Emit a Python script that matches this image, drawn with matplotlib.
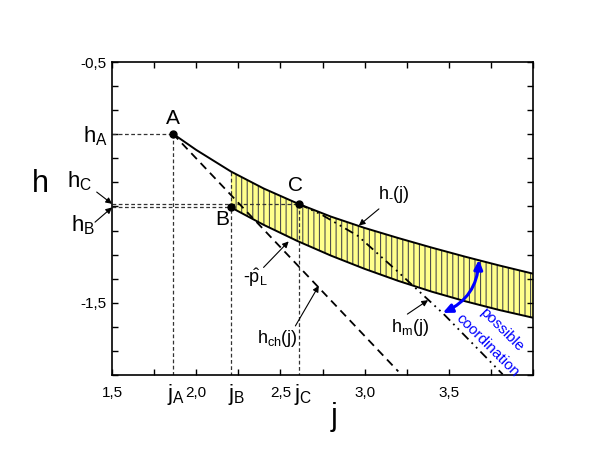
import numpy as np
import matplotlib
matplotlib.use('Agg')
import matplotlib.pyplot as plt
from matplotlib.ticker import MultipleLocator, FixedLocator

#
plt.rcParams['font.family'] = ['Liberation Sans', 'DejaVu Sans']
plt.rcParams['hatch.linewidth'] = 0.8

# upper boundary h_(j)
j_up = [1.86, 2.00, 2.207, 2.40, 2.61, 2.80, 3.00, 3.20, 3.40, 3.60, 3.80, 4.00]
h_up = [-0.797, -0.865, -0.955, -1.025, -1.090, -1.142, -1.189, -1.231, -1.271, -1.309, -1.345, -1.379]

# lower boundary (starting at B)
j_lo = [2.207, 2.40, 2.60, 2.80, 3.00, 3.20, 3.40, 3.60, 3.80, 4.00]
h_lo = [-1.104, -1.176, -1.243, -1.304, -1.359, -1.409, -1.454, -1.494, -1.530, -1.562]

# chord h_ch(j) from A
j_ch = [1.86, 3.20]
h_ch = [-0.797, -1.785]

# h_m(j) from C
j_m = [2.61, 2.74, 2.96, 3.19, 3.47, 3.82]
h_m = [-1.090, -1.132, -1.222, -1.366, -1.547, -1.797]

# points A, B, C
pt_names = ['A', 'B', 'C']
pt_j = [1.86, 2.207, 2.61]
pt_h = [-0.797, -1.104, -1.090]

# ticks
xtick_pos = [1.5, 2.0, 2.5, 3.0, 3.5, 4.0]
xtick_lab = ['1,5', '2,0', '2,5', '3,0', '3,5', '']
ytick_pos = [-1.5, -0.5]
ytick_lab = ['-1,5', '-0,5']


#
def arrow(ax, tip, tail):
	ax.annotate('', xy=tip, xytext=tail, annotation_clip=False,
		arrowprops=dict(arrowstyle='-|>', color='k', lw=0.8, mutation_scale=9,
						shrinkA=0, shrinkB=0))


#
def make_plot():

	fig = plt.figure(figsize=(5.93, 4.63), dpi=100)
	ax = fig.add_axes([0.1889, 0.19, 0.7099, 0.676])

	ax.set_xlim(1.5, 4.0)
	ax.set_ylim(-1.8, -0.5)

	# Yellow hatched band between the two curves
	band_j = j_up[2:] + j_lo[::-1]
	band_h = h_up[2:] + h_lo[::-1]
	ax.fill(band_j, band_h, facecolor='#ffff8c', edgecolor='#4d4d4d', hatch='|||', lw=0, zorder=1)

	# Curves
	ax.plot(j_up, h_up, color='k', lw=1.4, zorder=3)
	ax.plot(j_lo, h_lo, color='k', lw=1.4, zorder=3)
	ax.plot(j_ch, h_ch, color='k', lw=1.3, linestyle=(0, (4.5, 3)), zorder=3)
	ax.plot(j_m, h_m, color='k', lw=1.3, linestyle=(0, (5, 2.5, 1, 2.5, 1, 2.5)), zorder=3)

	# Helper dashed lines
	hl = dict(color='#333333', lw=0.9, linestyle=(0, (3, 2)), zorder=2)
	ja, jb, jc = pt_j
	ha, hb, hc = pt_h
	ax.plot([1.5, ja], [ha, ha], **hl)
	ax.plot([ja, ja], [ha, -1.8], **hl)
	ax.plot([1.5, jc], [hc, hc], **hl)
	ax.plot([1.5, jb], [hb, hb], **hl)
	ax.plot([jb, jb], [h_up[2], -1.8], **hl)
	ax.plot([jc, jc], [hc, -1.8], **hl)

	# Points
	ax.plot(pt_j, pt_h, 'o', color='k', ms=5, zorder=4)

	# Point names
	ax.text(1.860, -0.735, 'A', fontsize=15, ha='center', va='center')
	ax.text(2.152, -1.156, 'B', fontsize=15, ha='center', va='center')
	ax.text(2.592, -1.012, 'C', fontsize=15, ha='center', va='center')

	# Curve labels and arrows
	ax.text(3.173, -1.05, '$\\mathregular{h_{\u2010}(j)}$', fontsize=13, ha='center', va='center')
	arrow(ax, (2.966, -1.179), (3.085, -1.110))

	ax.text(2.351, -1.396, '$\\mathregular{\u2010\\hat{p}_L}$', fontsize=13, ha='center', va='center')
	arrow(ax, (2.549, -1.245), (2.40, -1.353))

	ax.text(2.482, -1.65, r'$\mathregular{h_{ch}(j)}$', fontsize=13, ha='center', va='center')
	arrow(ax, (2.728, -1.429), (2.589, -1.596))

	ax.text(3.268, -1.604, r'$\mathregular{h_{m}(j)}$', fontsize=13, ha='center', va='center')
	arrow(ax, (3.377, -1.489), (3.254, -1.547))

	# Blue double arrow - possible coordination
	ax.annotate('', xy=(3.464, -1.542), xytext=(3.679, -1.321),
		arrowprops=dict(arrowstyle='<|-|>,head_length=0.55,head_width=0.25', color='#0000ff', lw=2.2,
						shrinkA=0, shrinkB=0, connectionstyle='arc3,rad=-0.3'))
	ax.text(3.814, -1.61, 'possible', fontsize=11, color='#0000ff', rotation=-45,
		ha='center', va='center', rotation_mode='anchor')
	ax.text(3.73, -1.679, 'coordination', fontsize=11, color='#0000ff', rotation=-45,
		ha='center', va='center', rotation_mode='anchor')

	# Left side labels h_A, h_C, h_B
	ax.text(1.476, -0.808, r'$\mathregular{h_A}$', fontsize=16, ha='right', va='center', clip_on=False)
	ax.text(1.31, -0.994, r'$\mathregular{h_C}$', fontsize=16, ha='center', va='center', clip_on=False)
	ax.text(1.327, -1.177, r'$\mathregular{h_B}$', fontsize=16, ha='center', va='center', clip_on=False)
	arrow(ax, (1.5, -1.089), (1.409, -1.040))
	arrow(ax, (1.5, -1.104), (1.399, -1.165))

	# Bottom labels j_A, j_B, j_C
	ax.text(1.881, -1.879, r'$\mathregular{j_A}$', fontsize=16, ha='center', va='center', clip_on=False)
	ax.text(2.238, -1.879, r'$\mathregular{j_B}$', fontsize=16, ha='center', va='center', clip_on=False)
	ax.text(2.637, -1.879, r'$\mathregular{j_C}$', fontsize=16, ha='center', va='center', clip_on=False)

	# Axis names
	ax.text(1.074, -1.006, 'h', fontsize=22, ha='center', va='center', clip_on=False)
	ax.text(2.821, -1.975, 'j', fontsize=22, ha='center', va='center', clip_on=False)

	# Ticks
	ax.xaxis.set_major_locator(FixedLocator(xtick_pos))
	ax.set_xticklabels(xtick_lab)
	ax.xaxis.set_minor_locator(MultipleLocator(0.25))
	ax.yaxis.set_major_locator(FixedLocator(ytick_pos))
	ax.set_yticklabels(ytick_lab)
	ax.yaxis.set_minor_locator(MultipleLocator(0.1))

	ax.tick_params(which='both', direction='in', top=True, right=True, length=4, width=1, labelsize=11)
	ax.tick_params(axis='x', which='major', pad=8)
	ax.tick_params(axis='y', which='major', pad=4)

	for s in ax.spines.values():
		s.set_linewidth(1.2)

	plt.savefig('out.png', dpi=100)


#
if __name__ == '__main__':
	make_plot()
